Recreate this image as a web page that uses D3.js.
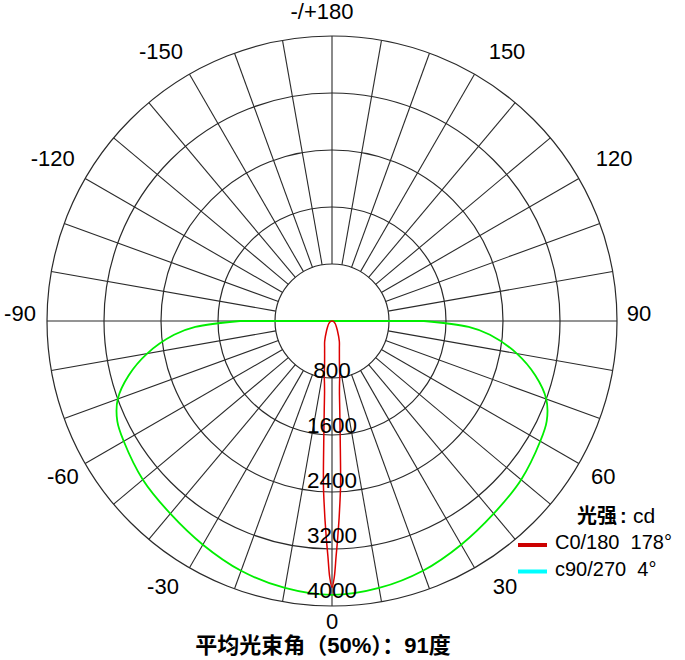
<!DOCTYPE html>
<html><head><meta charset="utf-8">
<script src="https://cdn.jsdelivr.net/npm/d3@7"></script>
<style>body{margin:0;background:#fff}svg{display:block}</style>
</head><body>
<svg id="chart" width="685" height="660"></svg>
<script>
// ---- data ----
const ringValues = [800, 1600, 2400, 3200, 4000];
const ringLabels = ["800", "1600", "2400", "3200", "4000"];
const angleTicks = [-150, -120, -90, -60, -30, 0, 30, 60, 90, 120, 150, 180];
const angleTickLabels = ["-150", "-120", "-90", "-60", "-30", "0", "30", "60", "90", "120", "150", "-/+180"];

// C0/180 plane (narrow, red)
const c0Angles = [-90, -80, -70, -60, -50, -40, -30, -20, -15, -10, -8, -7, -6, -5, -4, -3, -2.5, -2, -1.5, -1, -0.5, 0,
                  0.5, 1, 1.5, 2, 2.5, 3, 4, 5, 6, 7, 8, 10, 15, 20, 30, 40, 50, 60, 70, 80, 90];
const c0Values = [0, 12, 25, 40, 60, 90, 150, 300, 400, 600, 780, 870, 1000, 1250, 1650, 2300, 2550, 2800, 3050, 3300, 3600, 3740,
                  3600, 3300, 3050, 2800, 2550, 2300, 1650, 1250, 1000, 870, 780, 600, 400, 300, 150, 90, 60, 40, 25, 12, 0];

// C90/270 plane (wide, green)
const c90Angles = [-90, -87.5, -85, -80, -75, -70, -65, -60, -50, -40, -30, -20, -10, 0,
                   10, 20, 30, 40, 50, 60, 65, 70, 75, 80, 85, 87.5, 90];
const c90Values = [1290, 1920, 2225, 2635, 2955, 3200, 3325, 3375, 3465, 3530, 3625, 3730, 3805, 3845,
                   3805, 3730, 3625, 3530, 3465, 3375, 3325, 3200, 2955, 2635, 2225, 1920, 1290];

const legendLabels = ["C0/180  178°", "c90/270  4°"];
const legendColors = ["#cc0000", "#00ffff"];
const unitMain = "光强";
const unitSuffix = "cd";
const title = "平均光束角（50%）：91度";

// ---- layout ----
const cx = 332, cy = 321, R = 285;
const svg = d3.select("#chart");
const r = d3.scaleLinear().domain([0, 4000]).range([0, R]);
const toRad = deg => (180 - deg) * Math.PI / 180; // 0° at bottom, 90° at right
const pt = (deg, rad) => [cx + rad * Math.sin(deg * Math.PI / 180), cy + rad * Math.cos(deg * Math.PI / 180)];

const g = svg.append("g");
const gridColor = "#2a2a2a";

// spokes every 10°
g.selectAll("line.spoke").data(d3.range(0, 360, 10)).join("line")
  .attr("class", "spoke")
  .attr("x1", d => pt(d, r(800))[0]).attr("y1", d => pt(d, r(800))[1])
  .attr("x2", d => pt(d, r(4000))[0]).attr("y2", d => pt(d, r(4000))[1])
  .attr("stroke", gridColor).attr("stroke-width", 1.1);

// rings
g.selectAll("circle.ring").data(ringValues).join("circle")
  .attr("class", "ring")
  .attr("cx", cx).attr("cy", cy).attr("r", d => r(d))
  .attr("fill", "none").attr("stroke", gridColor).attr("stroke-width", 1.2);

// curves
const line = d3.lineRadial().curve(d3.curveCatmullRom.alpha(0.5));
const c90Pts = c90Angles.map((a, i) => [toRad(a), r(c90Values[i])]);
const c0Pts = c0Angles.map((a, i) => [toRad(a), r(c0Values[i])]);
const cg = svg.append("g").attr("transform", `translate(${cx},${cy})`);
cg.append("path").attr("d", line(c90Pts) + "Z")
  .attr("fill", "none").attr("stroke", "#00ee00").attr("stroke-width", 1.8);
cg.append("path").attr("d", line(c0Pts) + "Z")
  .attr("fill", "none").attr("stroke", "#dd0000").attr("stroke-width", 1.5);

// ring labels
svg.selectAll("text.ringlab").data(ringValues).join("text")
  .attr("class", "ringlab")
  .attr("x", cx).attr("y", d => cy + r(d) * 0.965 + 2)
  .attr("text-anchor", "middle")
  .attr("font-family", "'Liberation Sans', Arial, sans-serif")
  .attr("font-size", 22.5).attr("fill", "#000")
  .text((d, i) => ringLabels[i]);

// angle labels
const nudge = {"180": [-10, 2], "150": [19, 1], "-150": [-15, 1], "120": [12, -7], "-120": [-9, -7],
  "90": [-5, -8], "-90": [0, -8], "60": [1, -1], "-60": [1, -1], "30": [17, -5], "-30": [-13, -5], "0": [0, -12]};
svg.selectAll("text.anglab").data(angleTicks).join("text")
  .attr("class", "anglab")
  .attr("x", d => pt(d, 312)[0] + nudge[d][0])
  .attr("y", d => pt(d, 312)[1] + nudge[d][1])
  .attr("text-anchor", "middle").attr("dominant-baseline", "central")
  .attr("font-family", "'Liberation Sans', Arial, sans-serif")
  .attr("font-size", 22).attr("fill", "#000")
  .text((d, i) => angleTickLabels[i]);

// legend
const lt = svg.append("text").attr("y", 523).attr("fill", "#000")
  .attr("font-family", "'Liberation Sans', 'Noto Sans CJK SC', sans-serif");
lt.append("tspan").attr("x", 577).attr("font-family", "'Noto Sans CJK SC', sans-serif")
  .attr("font-weight", "bold").attr("font-size", 20).text(unitMain);
lt.append("tspan").attr("x", 620).attr("font-weight", "bold").attr("font-size", 20).text(":");
lt.append("tspan").attr("x", 633).attr("font-size", 21).text(unitSuffix);

const leg = svg.selectAll("g.leg").data(legendLabels).join("g").attr("class", "leg")
  .attr("transform", (d, i) => `translate(0,${545 + i * 26.5})`);
leg.append("line").attr("x1", 518).attr("x2", 547).attr("y1", 0).attr("y2", 0)
  .attr("stroke", (d, i) => legendColors[i]).attr("stroke-width", 4);
leg.append("text").attr("x", 555).attr("y", 4)
  .attr("font-family", "'Liberation Sans', Arial, sans-serif").attr("font-size", 20)
  .style("white-space", "pre").text(d => d);

// title
svg.append("text").attr("x", 323).attr("y", 653).attr("text-anchor", "middle")
  .attr("font-family", "'Liberation Sans', 'Noto Sans CJK SC', sans-serif")
  .attr("font-weight", "bold").attr("font-size", 22).text(title);
</script>
</body></html>
